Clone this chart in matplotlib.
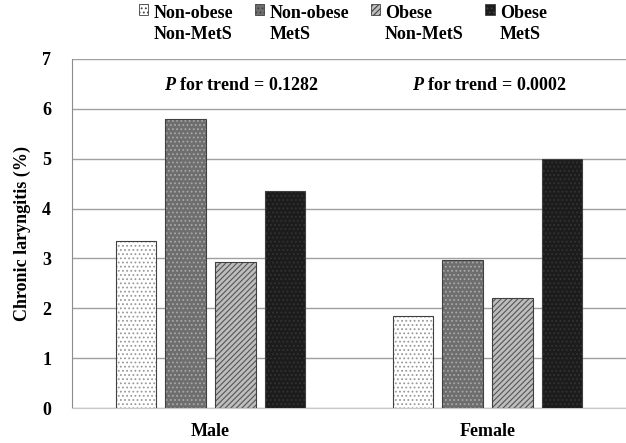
import numpy as np
import matplotlib
matplotlib.use("Agg")
import matplotlib.pyplot as plt
from matplotlib.patches import Patch, Rectangle
from matplotlib.legend_handler import HandlerPatch

# data
sexes = ["Male", "Female"]
groups = ["Non-obese\nNon-MetS", "Non-obese\nMetS", "Obese\nNon-MetS", "Obese\nMetS"]
non_obese_non_mets = [3.35, 1.84]
non_obese_mets = [5.79, 2.96]
obese_non_mets = [2.92, 2.20]
obese_mets = [4.36, 4.99]
p_trend = ["0.1282", "0.0002"]

plt.rcParams["font.family"] = ["Liberation Serif", "DejaVu Serif"]
plt.rcParams["font.weight"] = "bold"
plt.rcParams["mathtext.fontset"] = "custom"
plt.rcParams["mathtext.it"] = "Liberation Serif:italic:bold"
plt.rcParams["mathtext.rm"] = "Liberation Serif:bold"
plt.rcParams["hatch.linewidth"] = 0.8

# bar styles: face, hatch, hatch colour
styles = [
    ("white", "....", "#9a9a9a"),
    ("#6e6e6e", "....", "#a8a8a8"),
    ("#bdbdbd", "//////", "#555555"),
    ("#1c1c1c", "....", "#333333"),
]

fig = plt.figure(figsize=(6.26, 4.43), dpi=100)
ax = fig.add_axes([0.115, 0.079, 0.885, 0.788])

x = np.arange(len(sexes))
width = 0.145
offsets = [-0.27, -0.09, 0.09, 0.27]
series = [non_obese_non_mets, non_obese_mets, obese_non_mets, obese_mets]

handles = []
for vals, off, (fc, hatch, hc), lab in zip(series, offsets, styles, groups):
    ax.bar(x + off, vals, width, color=fc, hatch=hatch, edgecolor=hc,
           linewidth=0, zorder=3)
    ax.bar(x + off, vals, width, fill=False, edgecolor="#404040",
           linewidth=0.8, zorder=4)
    handles.append(Patch(facecolor=fc, hatch=hatch, edgecolor="#404040",
                         linewidth=0.6, label=lab))

ax.set_xlim(-0.5, 1.5)
ax.set_ylim(0, 7)
ax.set_yticks(range(8))
ax.set_xticks(x)
ax.set_xticklabels(sexes, fontsize=13, fontweight="bold")
ax.tick_params(axis="y", labelsize=13, length=0, pad=15)
ax.tick_params(axis="x", length=0, pad=11)
ax.yaxis.grid(True, color="#a0a0a0", linewidth=1.0, zorder=0)
ax.set_axisbelow(True)
for s in ["top", "right"]:
    ax.spines[s].set_visible(False)
ax.spines["left"].set_color("#8c8c8c")
ax.spines["bottom"].set_color("#c8c8c8")
ax.set_ylabel("Chronic laryngitis (%)", fontsize=13, fontweight="bold", labelpad=8)

for xi, p in zip([0.112, 1.009], p_trend):
    ax.text(xi, 6.47, r"$\mathit{P}$ for trend = " + p, ha="center",
            va="center", fontsize=13, fontweight="bold")


# legend square sits on the first text line
def top_square(legend, orig_handle, xdescent, ydescent, width, height, fontsize):
    return Rectangle((-xdescent, -ydescent + 0.8 * fontsize), width, height)


leg = fig.legend(handles=handles, ncol=4, loc="upper center",
                 bbox_to_anchor=(0.548, 0.995), frameon=False, fontsize=13,
                 handlelength=0.5, handleheight=0.5, handletextpad=0.3,
                 columnspacing=1.2, borderaxespad=0, borderpad=0.15,
                 handler_map={Patch: HandlerPatch(patch_func=top_square)})
for t in leg.get_texts():
    t.set_fontweight("bold")
    t.set_linespacing(1.28)

fig.savefig("out.png", dpi=100, facecolor="white")
